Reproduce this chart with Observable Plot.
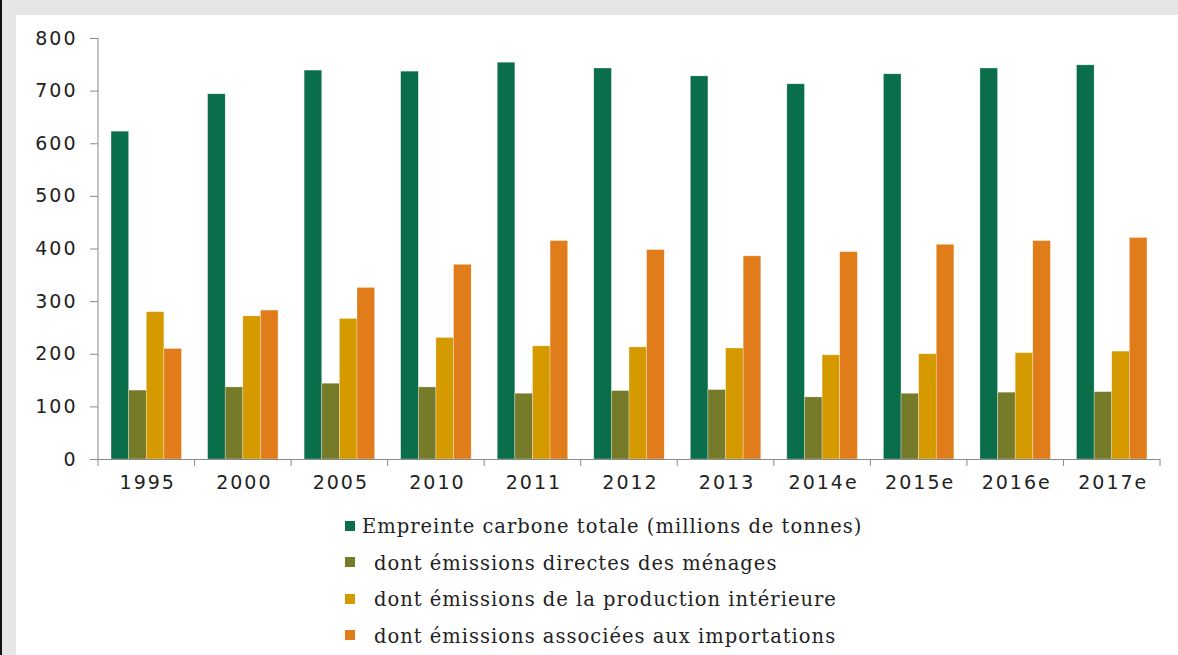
<!DOCTYPE html>
<html>
<head>
<meta charset="utf-8">
<script src="https://cdn.jsdelivr.net/npm/d3@7"></script>
<script src="https://cdn.jsdelivr.net/npm/@observablehq/plot@0.6"></script>
<style>
  html, body { margin: 0; padding: 0; }
  body { width: 1178px; height: 655px; background: #e6e6e6; position: relative; overflow: hidden; }
  #edge { position: absolute; left: 0; top: 0; width: 2px; height: 655px; background: #111; }
  #panel { position: absolute; left: 16px; top: 15px; width: 1162px; height: 640px; background: #fff; }
  #chart svg text { letter-spacing: 2px; }
  #legend { position: absolute; left: 329px; top: 494px; font-family: "DejaVu Serif", serif; font-size: 19.5px; letter-spacing: 1px; color: #222; }
  .row { height: 36.5px; line-height: 36.5px; white-space: nowrap; }
  .sw { display: inline-block; width: 10px; height: 10px; vertical-align: middle; position: relative; top: -2px; }
</style>
</head>
<body>
<div id="edge"></div>
<div id="panel">
  <div id="chart"></div>
  <div id="legend"></div>
</div>
<script>
const years = ["1995", "2000", "2005", "2010", "2011", "2012", "2013", "2014e", "2015e", "2016e", "2017e"];
const series = [
  "Empreinte carbone totale (millions de tonnes)",
  "dont émissions directes des ménages",
  "dont émissions de la production intérieure",
  "dont émissions associées aux importations"
];
const totale       = [623, 694, 739, 737, 754, 743, 728, 713, 732, 743, 749];
const menages      = [131, 137, 144, 137, 125, 130, 132, 118, 125, 127, 128];
const production   = [280, 272, 267, 231, 215, 213, 211, 198, 200, 202, 205];
const importations = [210, 283, 326, 370, 415, 398, 386, 394, 408, 415, 421];
const yTicks = [0, 100, 200, 300, 400, 500, 600, 700, 800];
const colors = ["#0b6e4a", "#767b29", "#d49a00", "#e07c1a"];

const seriesValues = [totale, menages, production, importations];
const data = years.flatMap((yr, i) => series.map((s, j) => ({year: yr, series: s, value: seriesValues[j][i]})));

const plot = Plot.plot({
  width: 1162,
  height: 500,
  marginTop: 23,
  marginBottom: 56,
  marginLeft: 82,
  marginRight: 18,
  style: {fontFamily: "DejaVu Sans", fontSize: "19px", color: "#222", background: "white"},
  fx: {domain: years, padding: 0, round: false, label: null, axis: null},
  x: {domain: series, axis: null, paddingInner: 0, paddingOuter: 0.74, round: false},
  y: {domain: [0, 800], axis: null},
  color: {domain: series, range: colors},
  marks: [
    Plot.barY(data, {fx: "year", x: "series", y: "value", fill: "series", inset: 0, stroke: "#fff", strokeOpacity: 0.5, strokeWidth: 0.6}),
    Plot.ruleY([0], {stroke: "#8a8a8a", strokeWidth: 1}),
    Plot.axisY({ticks: yTicks, tickSize: 8, tickPadding: 13, label: null, stroke: "#8a8a8a", fill: "#222", tickFormat: d => String(d)}),
    Plot.axisFx({anchor: "bottom", tickSize: 0, tickPadding: 16, label: null, fill: "#222", dx: 1})
  ]
});
document.getElementById("chart").appendChild(plot);

// axis line and band-boundary ticks from the library's scales
const fx = plot.scale("fx");
const ys = plot.scale("y");
const y0 = ys.apply(0), yTop = ys.apply(800);
const bounds = years.map(d => fx.apply(d)).concat([fx.apply(years[years.length - 1]) + fx.bandwidth]);
const g = d3.select(plot).append("g").attr("stroke", "#8a8a8a").attr("stroke-width", 1);
g.append("line").attr("x1", bounds[0]).attr("x2", bounds[0]).attr("y1", yTop).attr("y2", y0);
g.selectAll("line.b").data(bounds).join("line").attr("class", "b")
  .attr("x1", d => d).attr("x2", d => d).attr("y1", y0).attr("y2", y0 + 7);

// legend
const legend = d3.select("#legend");
series.forEach((s, i) => {
  const row = legend.append("div").attr("class", "row");
  row.append("span").attr("class", "sw").style("background", colors[i]);
  row.append("span").style("margin-left", i === 0 ? "7px" : "19px").text(s);
});
</script>
</body>
</html>
